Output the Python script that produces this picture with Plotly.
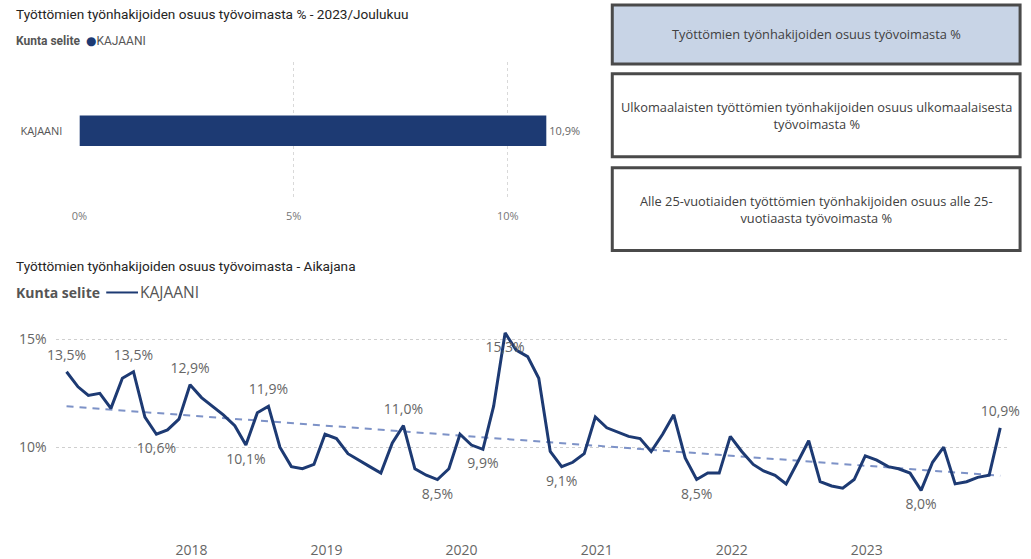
import numpy as np
import pandas as pd
import plotly.graph_objects as go

# ---------------- data ----------------
bar_category = ["KAJAANI"]
bar_value = [10.9]
bar_ticks = [0, 5, 10]

r2017 = [13.5, 12.8, 12.4, 12.5, 11.8, 13.2, 13.5, 11.4, 10.6, 10.8, 11.3, 12.9]
r2018 = [12.3, 11.9, 11.5, 11.0, 10.1, 11.6, 11.9, 10.0, 9.1, 9.0, 9.2, 10.6]
r2019 = [10.4, 9.7, 9.4, 9.1, 8.8, 10.2, 11.0, 9.0, 8.7, 8.5, 9.0, 10.6]
r2020 = [10.1, 9.9, 11.9, 15.3, 14.5, 14.2, 13.2, 9.8, 9.1, 9.3, 9.7, 11.4]
r2021 = [10.9, 10.7, 10.5, 10.4, 9.8, 10.6, 11.5, 9.5, 8.5, 8.8, 8.8, 10.5]
r2022 = [9.8, 9.2, 8.9, 8.7, 8.3, 9.3, 10.3, 8.4, 8.2, 8.1, 8.5, 9.6]
r2023 = [9.4, 9.1, 9.0, 8.8, 8.0, 9.3, 10.0, 8.3, 8.4, 8.6, 8.7, 10.9]
rate = r2017 + r2018 + r2019 + r2020 + r2021 + r2022 + r2023
months = pd.date_range("2017-01-01", periods=len(rate), freq="MS")

labels_above = [0, 6, 11, 18, 30, 83]
labels_below = [8, 16, 33, 37, 39, 44, 56, 76]

year_ticks = [2018, 2019, 2020, 2021, 2022, 2023]
line_yticks = [10, 15]

# ---------------- styling ----------------
W, H = 1031, 559
NAVY = "#1d3a73"
TREND = "#7d92c7"
TXT = "#252423"
GRAY = "#666666"
FONT = "Segoe UI, Open Sans, sans-serif"
TFONT = "Roboto, DejaVu Sans, sans-serif"


def fx(p):
    return p / W


def fy(p):
    return 1 - p / H


def pct(v, nd=0):
    return (f"{v:.{nd}f}".replace(".", ",")) + "%"


fig = go.Figure()

# bar chart
fig.add_trace(go.Bar(
    x=bar_value, y=bar_category, orientation="h",
    marker=dict(color=NAVY, line=dict(width=0)), width=0.22,
    text=[pct(v, 1) for v in bar_value], textposition="outside",
    textfont=dict(family=FONT, size=11, color=GRAY),
    cliponaxis=False, xaxis="x", yaxis="y", showlegend=False,
))

# line chart
text = []
pos = []
for i, v in enumerate(rate):
    if i in labels_above:
        text.append(pct(v, 1))
        pos.append("top center")
    elif i in labels_below:
        text.append(pct(v, 1))
        pos.append("bottom center")
    else:
        text.append("")
        pos.append("top center")

idx = np.arange(len(rate))
coef = np.polyfit(idx, np.array(rate), 1)
trend = np.polyval(coef, idx)

fig.add_trace(go.Scatter(
    x=months, y=trend, mode="lines",
    line=dict(color=TREND, width=2, dash="7px,6px"),
    xaxis="x2", yaxis="y2", showlegend=False, hoverinfo="skip",
))
fig.add_trace(go.Scatter(
    x=months, y=rate, mode="lines+markers+text",
    line=dict(color=NAVY, width=3),
    marker=dict(size=12, color="rgba(0,0,0,0)"),
    text=text, textposition=pos,
    textfont=dict(family=FONT, size=14, color=GRAY),
    cliponaxis=False, xaxis="x2", yaxis="y2", showlegend=False,
))

# axis ranges for the line chart (layout)
px_per_day = (1000 - 59) / (months[-1] - months[0]).days
x_left = months[0] - pd.Timedelta(days=(59 - 48) / px_per_day)
x_right = months[-1] + pd.Timedelta(days=(1007 - 1000) / px_per_day)
ppp = (448 - 340) / 5.0
y_lo = 15 - (530 - 340) / ppp
y_hi = 15 + (340 - 318) / ppp

fig.update_layout(
    width=W, height=H,
    margin=dict(l=0, r=0, t=0, b=0),
    paper_bgcolor="white", plot_bgcolor="white",
    font=dict(family=FONT, color=GRAY),
    xaxis=dict(
        domain=[fx(72), fx(590)], range=[0, 12], anchor="y",
        tickmode="array", tickvals=bar_ticks, ticktext=[pct(t) for t in bar_ticks],
        showgrid=True, gridcolor="#d9d9d9", griddash="dot", gridwidth=1,
        zeroline=False, showline=False,
        tickfont=dict(family=FONT, size=11, color="#777777"),
        ticklabelstandoff=8,
    ),
    yaxis=dict(
        domain=[fy(200), fy(62)], range=[-0.5, 0.5], anchor="x",
        showgrid=False, zeroline=False, showline=False,
        tickfont=dict(family=FONT, size=11, color="#555555"),
        ticklabelstandoff=16,
    ),
    xaxis2=dict(
        domain=[fx(48), fx(1007)], range=[x_left, x_right], anchor="y2",
        type="date", tickmode="array",
        tickvals=[pd.Timestamp(f"{y}-01-01") for y in year_ticks],
        ticktext=[str(y) for y in year_ticks],
        ticklabelshift=-10,
        showgrid=False, zeroline=False, showline=False,
        tickfont=dict(family=FONT, size=14, color=GRAY),
        ticklabelstandoff=11,
    ),
    yaxis2=dict(
        domain=[fy(530), fy(318)], range=[y_lo, y_hi], anchor="x2",
        tickmode="array", tickvals=line_yticks, ticktext=[pct(t) for t in line_yticks],
        showgrid=True, gridcolor="#cfcfcf", griddash="dot", gridwidth=1,
        zeroline=False, showline=False,
        tickfont=dict(family=FONT, size=14, color=GRAY),
        ticklabelstandoff=8,
    ),
)

ann = []
# titles
ann.append(dict(x=fx(6), y=fy(14), xref="paper", yref="paper", xanchor="left", yanchor="middle",
                text="Työttömien työnhakijoiden osuus työvoimasta % - 2023/Joulukuu",
                showarrow=False, font=dict(family=TFONT, size=13.6, color=TXT)))
ann.append(dict(x=fx(6), y=fy(41), xref="paper", yref="paper", xanchor="left", yanchor="middle",
                text="<b>Kunta selite</b>  <span style='color:%s'>●</span>KAJAANI" % NAVY,
                showarrow=False, font=dict(family=TFONT, size=12, color="#555555")))
ann.append(dict(x=fx(6), y=fy(266), xref="paper", yref="paper", xanchor="left", yanchor="middle",
                text="Työttömien työnhakijoiden osuus työvoimasta - Aikajana",
                showarrow=False, font=dict(family=TFONT, size=13.6, color=TXT)))
ann.append(dict(x=fx(6), y=fy(293), xref="paper", yref="paper", xanchor="left", yanchor="middle",
                text="<b>Kunta selite</b>",
                showarrow=False, font=dict(family=FONT, size=14, color="#555555")))
ann.append(dict(x=fx(131), y=fy(293), xref="paper", yref="paper", xanchor="left", yanchor="middle",
                text="KAJAANI",
                showarrow=False, font=dict(family=FONT, size=15.5, color="#555555")))

# boxes
boxes = [
    (5, 64, "#c8d4e6", "Työttömien työnhakijoiden osuus työvoimasta %"),
    (74, 157, "white", "Ulkomaalaisten työttömien työnhakijoiden osuus ulkomaalaisesta<br>työvoimasta %"),
    (168, 251, "white", "Alle 25-vuotiaiden työttömien työnhakijoiden osuus alle 25-<br>vuotiaasta työvoimasta %"),
]
shapes = []
for top, bot, fill, label in boxes:
    shapes.append(dict(type="rect", xref="paper", yref="paper",
                       x0=fx(609), x1=fx(1020), y0=fy(bot), y1=fy(top),
                       fillcolor=fill, line=dict(color="#4a4a4a", width=3)))
    ann.append(dict(x=fx(815), y=fy((top + bot) / 2), xref="paper", yref="paper",
                    xanchor="center", yanchor="middle", text=label, showarrow=False,
                    font=dict(family=FONT, size=12.8, color="#404040")))

# legend line sample
shapes.append(dict(type="line", xref="paper", yref="paper",
                   x0=fx(99), x1=fx(131), y0=fy(293), y1=fy(293),
                   line=dict(color=NAVY, width=2)))

fig.update_layout(annotations=ann, shapes=shapes)

fig.write_html(
    "out.html",
    config={"displayModeBar": False},
    post_script="document.body.style.margin='0';document.body.style.overflow='hidden';",
)
